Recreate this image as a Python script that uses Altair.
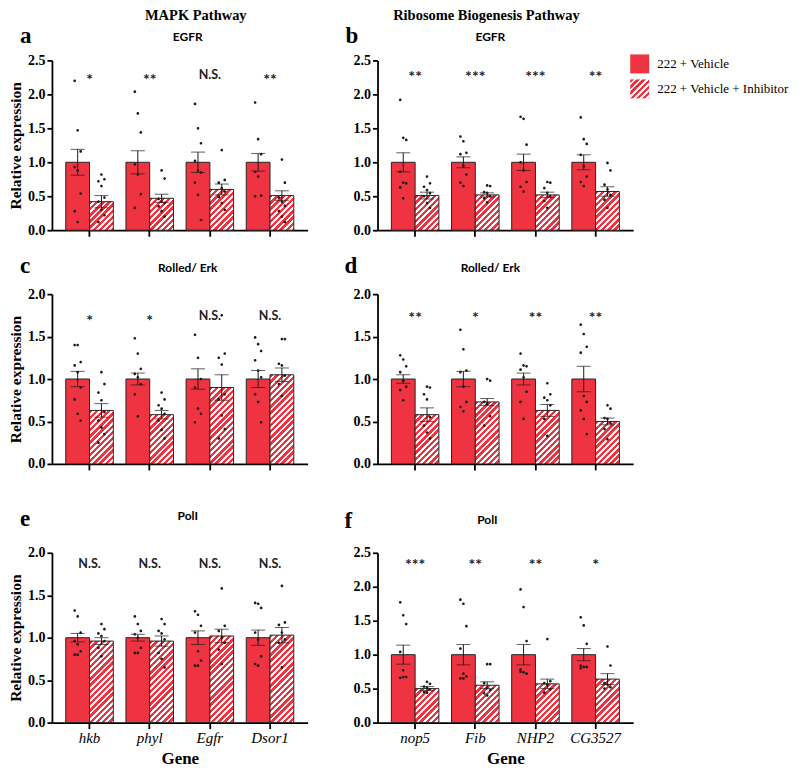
import math
import altair as alt

# ---------------- data ----------------
SERIES_KEYS = ["V", "I"]
LEGEND_LABELS = ["222 + Vehicle", "222 + Vehicle +  Inhibitor"]
PATHWAYS = ["MAPK  Pathway", "Ribosome Biogenesis   Pathway"]
SUBTITLES = ["EGFR", "Rolled/ Erk", "PolI"]
LETTERS = ["a", "b", "c", "d", "e", "f"]
GENES_MAPK = ["hkb", "phyl", "Egfr", "Dsor1"]
GENES_RB = ["nop5", "Fib", "NHP2", "CG3527"]

# panel a : MAPK / EGFR
A_MEAN_V = [1.0, 1.0, 1.0, 1.0]
A_MEAN_I = [0.42, 0.47, 0.60, 0.51]
A_SEM_V = [0.19, 0.17, 0.15, 0.13]
A_SEM_I = [0.09, 0.06, 0.08, 0.07]
A_SIG = ["*", "**", "N.S.", "**"]
A_DOTS_V = [[2.2, 1.47, 1.16, 0.93, 0.88, 0.54, 0.28, 0.12],
            [2.04, 1.72, 1.44, 0.97, 0.82, 0.53, 0.33],
            [1.86, 1.5, 1.28, 1.02, 0.88, 0.85, 0.7, 0.52, 0.15],
            [1.88, 1.34, 1.12, 0.86, 0.79, 0.51, 0.5]]
A_DOTS_I = [[0.82, 0.75, 0.72, 0.65, 0.48, 0.42, 0.3, 0.22, 0.12],
            [0.88, 0.76, 0.46, 0.42, 0.40, 0.35, 0.28, 0.2],
            [1.18, 0.74, 0.7, 0.62, 0.57, 0.49, 0.4, 0.3],
            [1.04, 0.7, 0.48, 0.42, 0.36, 0.28, 0.2, 0.12]]

# panel b : Ribosome biogenesis / EGFR
B_MEAN_V = [1.0, 1.0, 1.0, 1.0]
B_MEAN_I = [0.51, 0.52, 0.52, 0.57]
B_SEM_V = [0.14, 0.08, 0.12, 0.11]
B_SEM_I = [0.05, 0.03, 0.04, 0.07]
B_SIG = ["**", "***", "***", "**"]
B_DOTS_V = [[1.92, 1.36, 1.33, 0.86, 0.7, 0.69, 0.63, 0.47],
            [1.38, 1.31, 1.14, 1.12, 0.95, 0.82, 0.7, 0.65],
            [1.67, 1.64, 1.26, 1.0, 0.88, 0.71, 0.64, 0.57],
            [1.66, 1.34, 1.27, 1.11, 0.94, 0.79, 0.71, 0.65]]
B_DOTS_I = [[0.79, 0.69, 0.64, 0.59, 0.545, 0.5, 0.4, 0.33],
            [0.66, 0.65, 0.56, 0.55, 0.5, 0.47, 0.41],
            [0.71, 0.70, 0.62, 0.55, 0.5, 0.43, 0.33],
            [0.99, 0.88, 0.67, 0.6, 0.52, 0.45, 0.33]]

# panel c : MAPK / Rolled-Erk
C_MEAN_V = [1.0, 1.0, 1.0, 1.0]
C_MEAN_I = [0.63, 0.58, 0.90, 1.05]
C_SEM_V = [0.09, 0.07, 0.12, 0.10]
C_SEM_I = [0.08, 0.05, 0.15, 0.08]
C_SIG = ["*", "*", "N.S.", "N.S."]
C_DOTS_V = [[1.40, 1.40, 1.2, 1.16, 1.08, 0.90, 0.76, 0.59, 0.51],
            [1.48, 1.30, 1.12, 1.06, 1.02, 0.94, 0.82, 0.56],
            [1.52, 1.25, 1.0, 0.9, 0.65, 0.59, 0.49],
            [1.49, 1.41, 1.33, 1.22, 1.1, 1.02, 0.82, 0.73, 0.49]]
C_DOTS_I = [[1.08, 0.94, 0.84, 0.75, 0.61, 0.51, 0.43, 0.35, 0.25],
            [0.84, 0.76, 0.69, 0.65, 0.59, 0.51, 0.4, 0.3],
            [1.75, 1.3, 1.25, 1.17, 0.82, 0.76, 0.57, 0.41, 0.3],
            [1.47, 1.47, 1.18, 1.16, 1.04, 0.94, 0.80]]

# panel d : Ribosome biogenesis / Rolled-Erk
D_MEAN_V = [1.0, 1.0, 1.0, 1.0]
D_MEAN_I = [0.58, 0.73, 0.63, 0.50]
D_SEM_V = [0.05, 0.09, 0.07, 0.15]
D_SEM_I = [0.08, 0.04, 0.07, 0.04]
D_SIG = ["**", "*", "**", "**"]
D_DOTS_V = [[1.28, 1.23, 1.15, 1.08, 0.98, 0.91, 0.87, 0.75],
            [1.58, 1.35, 1.1, 1.08, 0.91, 0.73, 0.67, 0.62],
            [1.30, 1.16, 1.15, 1.11, 1.02, 0.85, 0.73, 0.53],
            [1.64, 1.53, 1.38, 1.31, 0.8, 0.73, 0.63, 0.53, 0.35]]
D_DOTS_I = [[0.91, 0.9, 0.82, 0.76, 0.55, 0.45, 0.37, 0.3],
            [1.0, 0.98, 0.73, 0.71, 0.56, 0.45],
            [0.95, 0.82, 0.78, 0.75, 0.69, 0.53, 0.33],
            [0.69, 0.65, 0.54, 0.53, 0.48, 0.41, 0.29]]

# panel e : MAPK / PolI
E_MEAN_V = [1.0, 1.0, 1.0, 1.0]
E_MEAN_I = [0.96, 0.96, 1.02, 1.03]
E_SEM_V = [0.05, 0.04, 0.08, 0.09]
E_SEM_I = [0.04, 0.06, 0.08, 0.09]
E_SIG = ["N.S.", "N.S.", "N.S.", "N.S."]
E_DOTS_V = [[1.32, 1.25, 1.06, 0.96, 0.92, 0.84, 0.80, 0.80],
            [1.25, 1.16, 1.08, 1.04, 1.0, 0.88, 0.82, 0.82],
            [1.31, 1.27, 1.14, 1.06, 0.84, 0.73, 0.67, 0.67],
            [1.41, 1.40, 1.35, 1.06, 0.98, 0.78, 0.69, 0.67]]
E_DOTS_I = [[1.16, 1.1, 1.05, 1.02, 0.96, 0.88, 0.78],
            [1.22, 1.16, 1.08, 1.05, 0.98, 0.82, 0.75, 0.65],
            [1.58, 1.14, 1.08, 1.0, 0.94, 0.86, 0.69],
            [1.61, 1.18, 1.15, 1.06, 0.98, 0.94, 0.65]]

# panel f : Ribosome biogenesis / PolI
F_MEAN_V = [1.0, 1.0, 1.0, 1.0]
F_MEAN_I = [0.50, 0.55, 0.57, 0.64]
F_SEM_V = [0.14, 0.15, 0.15, 0.09]
F_SEM_I = [0.03, 0.05, 0.07, 0.08]
F_SIG = ["***", "**", "**", "*"]
F_DOTS_V = [[1.77, 1.58, 1.45, 1.04, 0.77, 0.67, 0.66, 0.67],
            [1.81, 1.75, 1.42, 1.09, 0.72, 0.68, 0.65, 0.65],
            [1.96, 1.70, 1.2, 0.78, 0.74, 0.72, 0.75],
            [1.55, 1.43, 1.16, 0.84, 0.82, 0.82, 0.8]]
F_DOTS_I = [[0.6, 0.57, 0.53, 0.51, 0.49, 0.45, 0.44],
            [0.86, 0.86, 0.58, 0.51, 0.48, 0.43, 0.4],
            [1.23, 0.61, 0.58, 0.56, 0.49, 0.44],
            [1.12, 0.84, 0.58, 0.56, 0.52, 0.50]]

SIG_Y = [2.22, 2.27, 1.69, 1.73, 1.82, 2.33]
Y_MAX = [2.5, 2.5, 2.0, 2.0, 2.0, 2.5]

# ---------------- style ----------------
SERIF = "Liberation Serif"
SANS = "Lato, Open Sans, sans-serif"
RED = "#EF3340"
WHITE = "#FFFFFF"
INK = "#1b1b1b"
W = 256
H = 170
PI, PO = 0.21, 0.23


def hatch(w, h, period=6.2, white=0.45):
    total = w + h
    k = total / (w * w + h * h)
    stops = []
    n = int(math.ceil(total / period))
    for i in range(n):
        t0 = min(i * period / total, 1.0)
        tm = min((i + 1 - white) * period / total, 1.0)
        t1 = min((i + 1) * period / total, 1.0)
        stops += [{"offset": round(t0, 4), "color": RED},
                  {"offset": round(tm, 4), "color": RED},
                  {"offset": round(tm, 4), "color": WHITE},
                  {"offset": round(t1, 4), "color": WHITE}]
    return {"gradient": "linear", "x1": 0, "y1": 0,
            "x2": round(k * w, 5), "y2": round(k * h, 5), "stops": stops}


def dot_path(c, r=0.27):
    return (f"M {c - r},0 A {r},{r} 0 1,0 {c + r},0 "
            f"A {r},{r} 0 1,0 {c - r},0 Z")


DOT_SHAPES = [dot_path(-0.6), dot_path(0.0), dot_path(0.6)]


def text_layer(txt, x, y, font, size, weight="bold", align="center",
               baseline="alphabetic", style="normal"):
    return alt.Chart(alt.Data(values=[{"t": txt}])).mark_text(
        font=font, fontSize=size, fontWeight=weight, align=align,
        baseline=baseline, fontStyle=style, color="black"
    ).encode(x=alt.value(x), y=alt.value(y), text="t:N")


def panel(genes, mean_v, mean_i, sem_v, sem_i, dots_v, dots_i, sig, sig_y,
          ymax, letter, subtitle, left, bottom, pos, header=None, legend=False):
    off = 25 if bottom else 0
    vh = H + off
    step = W / (4 - PI + 2 * PO)
    bw = step * (1 - PI) / 2

    bar_rows, dot_rows, ns_rows, star_rows = [], [], [], []
    for g, mv, mi, sv, si, dv, di, sg in zip(genes, mean_v, mean_i, sem_v,
                                              sem_i, dots_v, dots_i, sig):
        bar_rows.append({"gene": g, "s": "V", "mean": mv, "lo": mv - sv,
                         "hi": mv + sv, "paint": RED})
        bar_rows.append({"gene": g, "s": "I", "mean": mi, "lo": mi - si,
                         "hi": mi + si, "paint": hatch(bw, mi / ymax * H)})
        for j, v in enumerate(dv):
            dot_rows.append({"gene": g, "s": "V", "value": v, "k": j % 3})
        for j, v in enumerate(di):
            dot_rows.append({"gene": g, "s": "I", "value": v, "k": (j + 1) % 3})
        (star_rows if "*" in sg else ns_rows).append(
            {"gene": g, "label": sg, "y": sig_y})

    ticks = [i * 0.5 for i in range(int(round(ymax / 0.5)) + 1)]
    yscale = alt.Scale(domain=[0, ymax], nice=False, range=[vh, off])
    yaxis = alt.Axis(values=ticks, format=".1f", grid=False,
                     domainColor="black", domainWidth=1.8,
                     tickColor="black", tickWidth=1.8, tickSize=5,
                     labelFont=SERIF, labelFontWeight="bold", labelFontSize=14,
                     labelColor="black", labelPadding=2,
                     titleFont=SERIF, titleFontWeight="bold", titleFontSize=15.5,
                     titleColor="black", titlePadding=4)
    ytitle = "Relative expression" if left else ""

    def Y(field):
        return alt.Y(f"{field}:Q", scale=yscale, axis=yaxis, title=ytitle)

    xaxis = alt.Axis(labels=bottom, labelAngle=0, grid=False,
                     domainColor="black", domainWidth=1.8,
                     tickColor="black", tickWidth=1.8, tickSize=6,
                     labelFont=SERIF, labelFontStyle="italic", labelFontSize=15,
                     labelColor="black", labelPadding=2,
                     titleFont=SERIF, titleFontWeight="bold", titleFontSize=17,
                     titleColor="black", titlePadding=5)
    X = alt.X("gene:N", sort=genes,
              scale=alt.Scale(domain=genes, paddingInner=PI, paddingOuter=PO),
              axis=xaxis, title="Gene" if bottom else "")
    XO = alt.XOffset("s:N", sort=SERIES_KEYS,
                     scale=alt.Scale(domain=SERIES_KEYS, paddingInner=0,
                                     paddingOuter=0))

    bars_src = alt.Chart(alt.Data(values=bar_rows))
    bars = bars_src.mark_bar(stroke="#262626", strokeWidth=1).encode(
        x=X, xOffset=XO, y=Y("mean"), fill=alt.Fill("paint:N", scale=None))
    err = bars_src.mark_rule(color=INK, strokeWidth=1).encode(
        x=X, xOffset=XO, y=Y("lo"), y2="hi:Q")
    cap_hi = bars_src.mark_tick(color=INK, thickness=1, size=14,
                                orient="horizontal").encode(
        x=X, xOffset=XO, y=Y("hi"))
    cap_lo = bars_src.mark_tick(color=INK, thickness=1, size=14,
                                orient="horizontal").encode(
        x=X, xOffset=XO, y=Y("lo"))
    dots = alt.Chart(alt.Data(values=dot_rows)).mark_point(
        filled=True, size=100, color=INK, opacity=1, strokeWidth=0).encode(
        x=X, xOffset=XO, y=Y("value"),
        shape=alt.Shape("k:N", scale=alt.Scale(domain=[0, 1, 2],
                                               range=DOT_SHAPES), legend=None))

    layers = [bars, err, cap_hi, cap_lo, dots]
    if ns_rows:
        layers.append(alt.Chart(alt.Data(values=ns_rows)).mark_text(
            font=SANS, fontWeight="bold", fontSize=12.5, color="#222222",
            baseline="alphabetic").encode(x=X, y=Y("y"), text="label:N"))
    if star_rows:
        layers.append(alt.Chart(alt.Data(values=star_rows)).mark_text(
            font=SANS, fontWeight="bold", fontSize=16, color="#222222",
            baseline="alphabetic", dy=6).encode(
            x=X, y=Y("y"), text="label:N"))
    layers += [text_layer(letter, pos["letter"][0], pos["letter"][1] + off,
                          SERIF, 23, align="left"),
               text_layer(subtitle, pos["sub"][0], pos["sub"][1] + off,
                          SANS, 12)]
    if header:
        layers.append(text_layer(header, pos["head"][0], pos["head"][1] + off,
                                 SERIF, 14.5))
    if legend:
        sw = alt.Chart(alt.Data(values=[{"t": LEGEND_LABELS[0]}]))
        layers.append(sw.mark_square(size=361, fill=RED, opacity=1,
                                     strokeWidth=0).encode(
            x=alt.value(262.5), y=alt.value(3.5)))
        layers.append(sw.mark_square(size=361, fill=hatch(19, 19, 6.2),
                                     opacity=1, strokeWidth=0).encode(
            x=alt.value(262.5), y=alt.value(28.5)))
        layers.append(text_layer(LEGEND_LABELS[0], 280, 4, SERIF, 13,
                                 weight="normal", align="left",
                                 baseline="middle"))
        layers.append(text_layer(LEGEND_LABELS[1], 280, 29, SERIF, 13,
                                 weight="normal", align="left",
                                 baseline="middle"))
    return alt.layer(*layers).properties(width=W, height=vh)


pa = panel(GENES_MAPK, A_MEAN_V, A_MEAN_I, A_SEM_V, A_SEM_I, A_DOTS_V, A_DOTS_I,
           A_SIG, SIG_Y[0], Y_MAX[0], LETTERS[0], SUBTITLES[0], True, False,
           {"letter": (-32, -17), "sub": (136, -19), "head": (144, -40)},
           header=PATHWAYS[0])
pb = panel(GENES_RB, B_MEAN_V, B_MEAN_I, B_SEM_V, B_SEM_I, B_DOTS_V, B_DOTS_I,
           B_SIG, SIG_Y[1], Y_MAX[1], LETTERS[1], SUBTITLES[0], False, False,
           {"letter": (-32, -17), "sub": (113, -19), "head": (109, -40)},
           header=PATHWAYS[1], legend=True)
pc = panel(GENES_MAPK, C_MEAN_V, C_MEAN_I, C_SEM_V, C_SEM_I, C_DOTS_V, C_DOTS_I,
           C_SIG, SIG_Y[2], Y_MAX[2], LETTERS[2], SUBTITLES[1], True, False,
           {"letter": (-32, -21), "sub": (136, -22)})
pd_ = panel(GENES_RB, D_MEAN_V, D_MEAN_I, D_SEM_V, D_SEM_I, D_DOTS_V, D_DOTS_I,
            D_SIG, SIG_Y[3], Y_MAX[3], LETTERS[3], SUBTITLES[1], False, False,
            {"letter": (-33, -21), "sub": (113, -22)})
pe = panel(GENES_MAPK, E_MEAN_V, E_MEAN_I, E_SEM_V, E_SEM_I, E_DOTS_V, E_DOTS_I,
           E_SIG, SIG_Y[4], Y_MAX[4], LETTERS[4], SUBTITLES[2], True, True,
           {"letter": (-32, -27), "sub": (136, -33)})
pf = panel(GENES_RB, F_MEAN_V, F_MEAN_I, F_SEM_V, F_SEM_I, F_DOTS_V, F_DOTS_I,
           F_SIG, SIG_Y[5], Y_MAX[5], LETTERS[5], SUBTITLES[2], False, True,
           {"letter": (-33, -25), "sub": (110, -29)})

chart = alt.concat(pa, pb, pc, pd_, pe, pf, columns=2,
                   spacing={"row": 64, "column": 70}, bounds="flush"
                   ).properties(padding=0).configure_view(strokeWidth=0)

chart.save("out.html", embed_options={"renderer": "svg", "actions": False})
